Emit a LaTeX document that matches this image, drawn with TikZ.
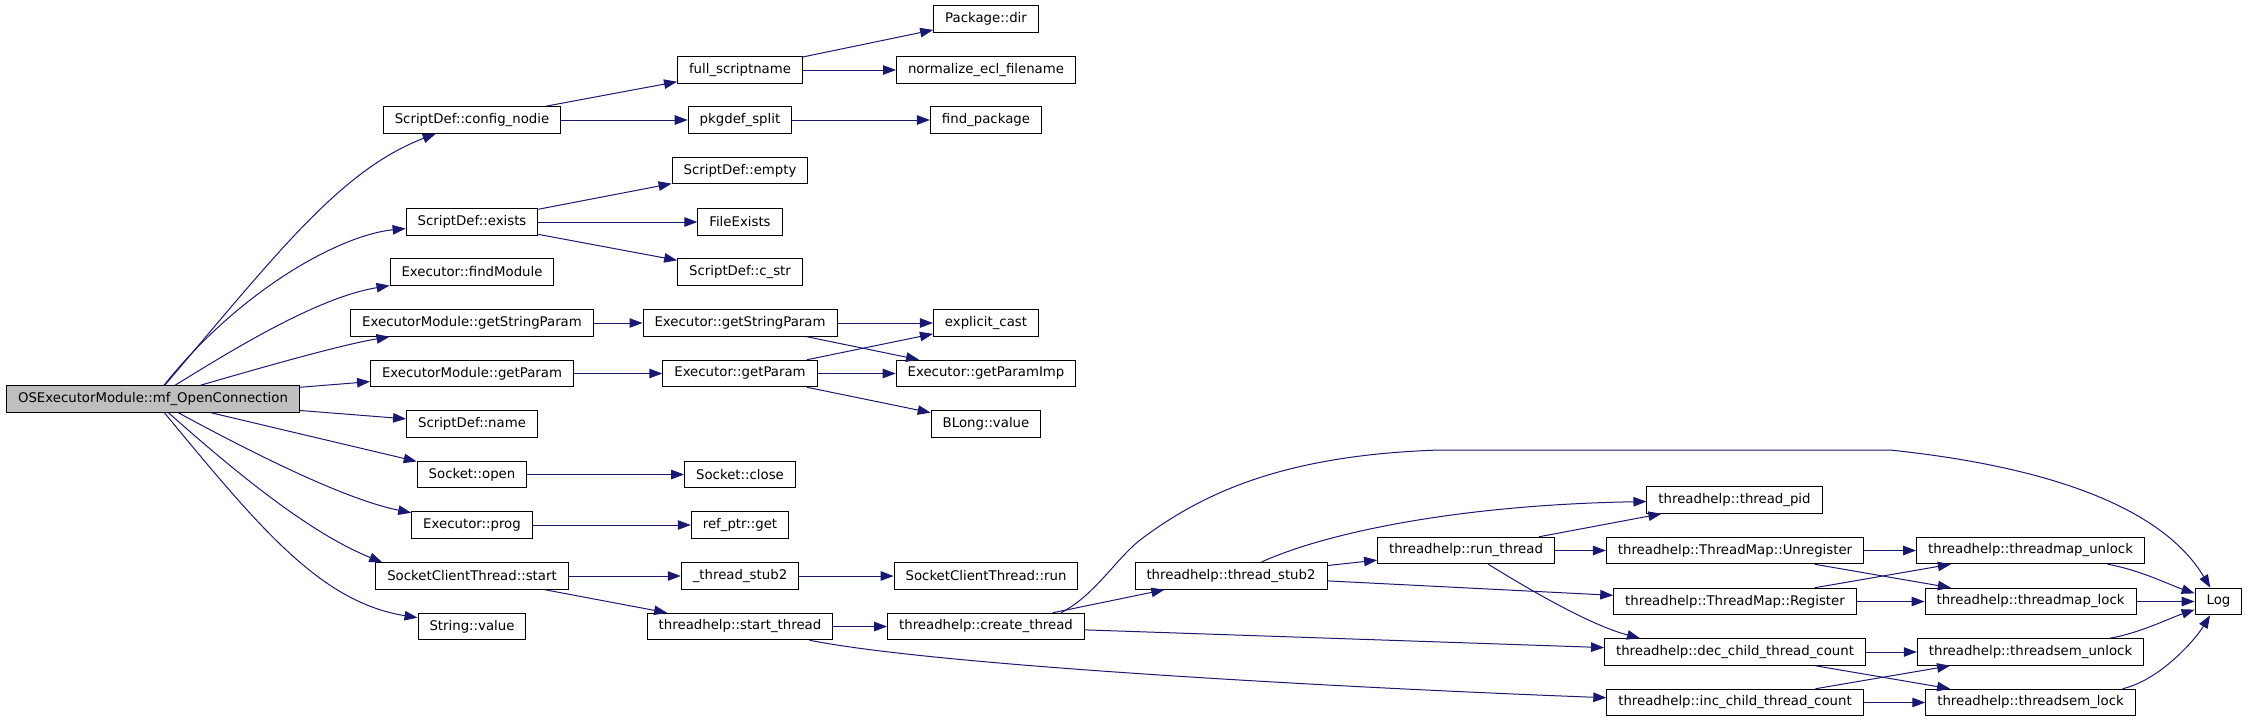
\documentclass[tikz,border=0pt]{standalone}
\usepackage{fontspec}
\setmainfont{DejaVu Sans}
\usetikzlibrary{arrows.meta}
\definecolor{edgeblue}{RGB}{25,25,112}
\definecolor{rootgray}{RGB}{191,191,191}
\tikzset{
  fn/.style={draw=black, fill=white, line width=1pt, inner xsep=11.5pt, inner ysep=0pt,
    minimum height=26.5pt, font=\fontsize{13.3}{15}\selectfont},
  call/.style={-{Triangle[length=13pt,width=9.5pt]}, draw=edgeblue, line width=1pt}
}
\begin{document}
\begin{tikzpicture}[x=1pt,y=-1pt]
      \useasboundingbox (0,0) rectangle (2248,721);
      \draw
        (153,399) node[fn,fill=rootgray] (root){OSExecutorModule::mf\_OpenConnection}
        (472,120) node[fn] (cfg){ScriptDef::config\_nodie}
        (472,222) node[fn] (exists){ScriptDef::exists}
        (472,272) node[fn] (findmod){Executor::findModule}
        (472,323) node[fn] (emsp){ExecutorModule::getStringParam}
        (472,373.5) node[fn] (emgp){ExecutorModule::getParam}
        (472,424) node[fn] (sname){ScriptDef::name}
        (472,474.5) node[fn] (open){Socket::open}
        (472,525) node[fn] (prog){Executor::prog}
        (472,576) node[fn] (start){SocketClientThread::start}
        (472,626.5) node[fn] (strval){String::value}
        (740,70) node[fn] (full){full\_scriptname}
        (740,120) node[fn] (pkg){pkgdef\_split}
        (740,170.5) node[fn] (empty){ScriptDef::empty}
        (740,222) node[fn] (fexists){FileExists}
        (740,272) node[fn] (cstr){ScriptDef::c\_str}
        (740,323) node[fn] (esp){Executor::getStringParam}
        (740,373.5) node[fn] (egp){Executor::getParam}
        (740,474.5) node[fn] (close){Socket::close}
        (740,525) node[fn] (get){ref\_ptr::get}
        (740,576) node[fn] (stub){\_thread\_stub2}
        (740,626.5) node[fn] (sthr){threadhelp::start\_thread}
        (986,19) node[fn] (dir){Package::dir}
        (986,70) node[fn] (norm){normalize\_ecl\_filename}
        (986,120) node[fn] (find){find\_package}
        (986,323) node[fn] (cast){explicit\_cast}
        (986,373.5) node[fn] (imp){Executor::getParamImp}
        (986,424) node[fn] (blong){BLong::value}
        (986,576) node[fn] (run){SocketClientThread::run}
        (986,626.5) node[fn] (cthr){threadhelp::create\_thread}
        (1231,576) node[fn] (tstub){threadhelp::thread\_stub2}
        (1466,550.5) node[fn] (rthr){threadhelp::run\_thread}
        (1734.5,500) node[fn] (pid){threadhelp::thread\_pid}
        (1735,550.5) node[fn] (unreg){threadhelp::ThreadMap::Unregister}
        (1735,601.5) node[fn] (reg){threadhelp::ThreadMap::Register}
        (1735,652) node[fn] (dec){threadhelp::dec\_child\_thread\_count}
        (1735,702.5) node[fn] (inc){threadhelp::inc\_child\_thread\_count}
        (2030.5,550.5) node[fn] (mapun){threadhelp::threadmap\_unlock}
        (2030.5,601.5) node[fn] (maplk){threadhelp::threadmap\_lock}
        (2030.5,652) node[fn] (semun){threadhelp::threadsem\_unlock}
        (2030.5,702.5) node[fn] (semlk){threadhelp::threadsem\_lock}
        (2218.5,601.5) node[fn] (log){Log};
      \begin{scope}[call]
        \draw (root) .. controls (275,256) and (340,170) .. (cfg);
        \draw (root) .. controls (240,290) and (340,235) .. (exists);
        \draw (root) .. controls (240,345) and (320,297) .. (findmod);
        \draw (root) .. controls (260,368) and (340,345) .. (emsp);
        \draw (root) to (emgp);
        \draw (root) to (sname);
        \draw (root) to (open);
        \draw (root) .. controls (247,450) and (343,499) .. (prog);
        \draw (root) .. controls (233,470) and (309,533) .. ([xshift=7pt]start.north west);
        \draw (root) .. controls (259,527) and (320,602) .. (strval);
        \draw (cfg) to (full);
        \draw (cfg) to (pkg);
        \draw (full) to (dir);
        \draw (full) to (norm);
        \draw (pkg) to (find);
        \draw (exists) to (empty);
        \draw (exists) to (fexists);
        \draw (exists) to (cstr);
        \draw (emsp) to (esp);
        \draw (esp) to (cast);
        \draw (esp) to (imp);
        \draw (emgp) to (egp);
        \draw (egp) to (cast);
        \draw (egp) to (imp);
        \draw (egp) to (blong);
        \draw (open) to (close);
        \draw (prog) to (get);
        \draw (start) to (stub);
        \draw (start) to (sthr);
        \draw (stub) to (run);
        \draw (sthr) to (cthr);
        \draw (sthr) .. controls (950,668) and (1400,690) .. (inc);
        \draw (cthr) to (dec);
        \draw (cthr) to (tstub);
        \draw ([xshift=75pt]cthr.north) .. controls (1095,595) and (1115,560) .. (1140,540)
          .. controls (1200,495) and (1280,455) .. (1440,450) -- (1890,450)
          .. controls (2080,470) and (2170,520) .. (log);
        \draw ([xshift=30pt]tstub.north) .. controls (1320,535) and (1450,505) .. (pid);
        \draw (tstub) to (rthr);
        \draw (tstub) to (reg);
        \draw (rthr) to (pid);
        \draw (rthr) to (unreg);
        \draw (rthr) .. controls (1530,590) and (1590,625) .. ([xshift=-95pt]dec.north);
        \draw (unreg) to (mapun);
        \draw (unreg) to (maplk);
        \draw (reg) to (mapun);
        \draw (reg) to (maplk);
        \draw (dec) to (semun);
        \draw (dec) to (semlk);
        \draw (inc) to (semun);
        \draw (inc) to (semlk);
        \draw (mapun) .. controls (2140,570) and (2170,585) .. (log);
        \draw (maplk) to (log);
        \draw (semun) .. controls (2140,633) and (2170,618) .. (log);
        \draw ([xshift=92pt]semlk.north) .. controls (2160,680) and (2195,640) .. (log);
      \end{scope}
    \end{tikzpicture}
\end{document}
